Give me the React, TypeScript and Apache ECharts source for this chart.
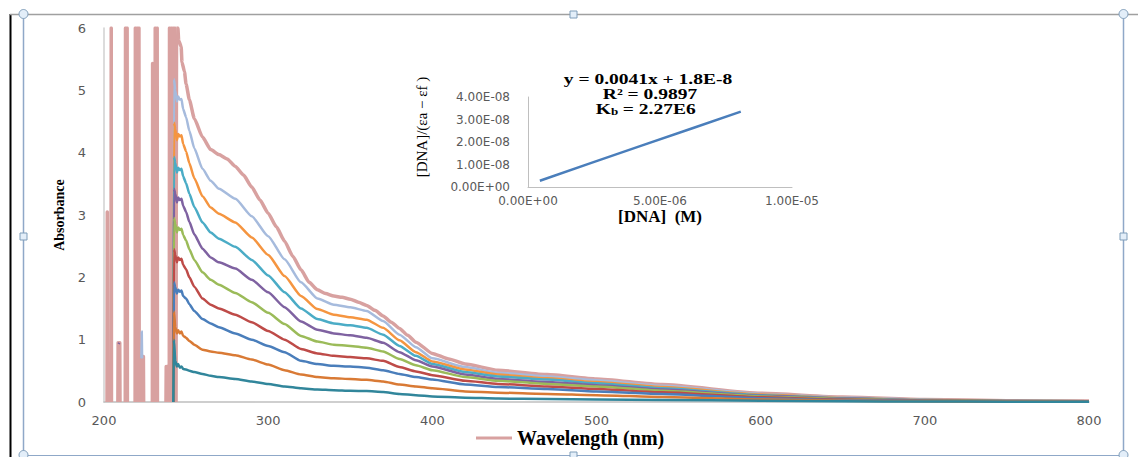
import React, { useEffect, useRef } from "react";
import * as echarts from "echarts";

// ---------- Main spectra: [wavelength (nm), absorbance] ----------
// Noisy saturated spikes of the pink spectrum below 245 nm: [centre nm, top absorbance]
const pinkSpikes: number[][] = [
  [202.0, 3.05], [204.4, 6],
  [208.6, 0.95], [209.6, 0.95],
  [213.1, 6], [214.1, 6],
  [219.1, 6], [220.2, 6], [221.3, 6],
  [222.8, 0.73], [224.0, 0.73],
  [229.6, 5.43], [231.2, 6], [232.4, 6],
  [237.9, 0.57], [238.6, 0.57],
  [239.9, 6], [241.0, 6], [242.1, 6], [243.2, 6],
];

const pinkCurve: any[] = [
  [243.9, 0], [244.2, 6], [245, 6], [245.5, 5.8], [247, 5.7], [247.5, 5.45], [249, 5.3],
  [250, 5.1], [252, 4.85], [255, 4.55], [260, 4.25], [265, 4.05], [270, 3.97], [275, 3.9],
  [280, 3.78], [285, 3.64], [290, 3.45], [295, 3.24], [300, 3.03], [305, 2.81], [310, 2.58],
  [315, 2.34], [320, 2.12], [325, 1.92], [330, 1.8], [335, 1.74], [340, 1.7], [345, 1.68],
  [350, 1.65], [355, 1.6], [360, 1.55], [365, 1.47], [370, 1.38], [375, 1.28], [380, 1.18],
  [385, 1.07], [390, 0.96], [400, 0.78], [410, 0.69], [420, 0.61], [440, 0.51], [470, 0.44],
  [500, 0.37], [540, 0.28], [600, 0.14], [650, 0.08], [700, 0.04], [750, 0.022], [800, 0.015],
];

const lightBlueSeries: any[] = [
  [222.8, 0.7], [223, 1.13], [223.2, 0.7], [223.3, "-"],
  [242.2, 0], [242.6, 5.18], [243.4, 5.0], [244.4, 4.82], [245.2, 4.9], [246.2, 4.85], [247.2, 4.86], [248.2, 4.7],
  [250, 4.57], [252, 4.35], [255, 4.07], [260, 3.74], [265, 3.55], [270, 3.42], [280, 3.26], [290, 2.98],
  [300, 2.66], [310, 2.29], [320, 1.92], [330, 1.66], [340, 1.56], [350, 1.52], [360, 1.46], [370, 1.3],
  [380, 1.08], [390, 0.88], [400, 0.7], [420, 0.56], [440, 0.47], [470, 0.41], [500, 0.35], [540, 0.26],
  [600, 0.13], [650, 0.072], [700, 0.037], [750, 0.02], [800, 0.014],
];

const orangeSeries: any[] = [
  [242.2, 0], [242.6, 4.48], [243.4, 4.38], [244.4, 4.2], [245.2, 4.3], [246.2, 4.26], [247.2, 4.28], [248.2, 4.14],
  [250, 4.02], [252, 3.83], [255, 3.59], [260, 3.3], [265, 3.12], [270, 3.02], [280, 2.88], [290, 2.64],
  [300, 2.36], [310, 2.02], [320, 1.7], [330, 1.49], [340, 1.4], [350, 1.36], [360, 1.32], [370, 1.19],
  [380, 0.99], [390, 0.8], [400, 0.65], [420, 0.52], [440, 0.44], [470, 0.38], [500, 0.32], [540, 0.24],
  [600, 0.12], [650, 0.066], [700, 0.034], [750, 0.019], [800, 0.013],
];

const aquaSeries: any[] = [
  [242.2, 0], [242.6, 3.93], [243.4, 3.84], [244.4, 3.68], [245.2, 3.76], [246.2, 3.72], [247.2, 3.74], [248.2, 3.62],
  [250, 3.51], [252, 3.34], [255, 3.13], [260, 2.88], [265, 2.72], [270, 2.62], [280, 2.49], [290, 2.28],
  [300, 2.03], [310, 1.76], [320, 1.5], [330, 1.33], [340, 1.26], [350, 1.23], [360, 1.19], [370, 1.08],
  [380, 0.9], [390, 0.74], [400, 0.61], [420, 0.48], [440, 0.41], [470, 0.36], [500, 0.3], [540, 0.22],
  [600, 0.11], [650, 0.06], [700, 0.031], [750, 0.018], [800, 0.012],
];

const purpleSeries: any[] = [
  [208.9, 0.93], [209.3, 0.95], [209.4, "-"],
  [242.2, 0], [242.6, 3.42], [243.4, 3.34], [244.4, 3.2], [245.2, 3.28], [246.2, 3.24], [247.2, 3.26], [248.2, 3.15],
  [250, 3.05], [252, 2.89], [255, 2.69], [260, 2.46], [265, 2.32], [270, 2.24], [280, 2.14], [290, 1.96],
  [300, 1.76], [310, 1.52], [320, 1.29], [330, 1.16], [340, 1.1], [350, 1.07], [360, 1.03], [370, 0.95],
  [380, 0.8], [390, 0.67], [400, 0.57], [420, 0.44], [440, 0.37], [470, 0.32], [500, 0.27], [540, 0.2],
  [600, 0.1], [650, 0.055], [700, 0.028], [750, 0.016], [800, 0.01],
];

const greenSeries: any[] = [
  [242.2, 0], [242.6, 2.95], [243.4, 2.86], [244.4, 2.72], [245.2, 2.8], [246.2, 2.76], [247.2, 2.78], [248.2, 2.68],
  [250, 2.59], [252, 2.45], [255, 2.28], [260, 2.08], [265, 1.96], [270, 1.88], [280, 1.75], [290, 1.6],
  [300, 1.43], [310, 1.25], [320, 1.06], [330, 0.97], [340, 0.92], [350, 0.9], [360, 0.87], [370, 0.81],
  [380, 0.69], [390, 0.59], [400, 0.51], [420, 0.4], [440, 0.34], [470, 0.29], [500, 0.25], [540, 0.18],
  [600, 0.09], [650, 0.048], [700, 0.024], [750, 0.014], [800, 0.009],
];

const redSeries: any[] = [
  [242.2, 0], [242.6, 2.45], [243.4, 2.36], [244.4, 2.24], [245.2, 2.32], [246.2, 2.28], [247.2, 2.3], [248.2, 2.2],
  [250, 2.13], [252, 2.0], [255, 1.85], [260, 1.66], [265, 1.56], [270, 1.5], [280, 1.4], [290, 1.28],
  [300, 1.14], [310, 1.0], [320, 0.85], [330, 0.78], [340, 0.74], [350, 0.72], [360, 0.7], [370, 0.66],
  [380, 0.56], [390, 0.49], [400, 0.43], [420, 0.34], [440, 0.29], [470, 0.25], [500, 0.21], [540, 0.155],
  [600, 0.075], [650, 0.04], [700, 0.02], [750, 0.012], [800, 0.008],
];

const blueSeries: any[] = [
  [242.2, 0], [242.6, 1.92], [243.4, 1.84], [244.4, 1.74], [245.2, 1.8], [246.2, 1.77], [247.2, 1.79], [248.2, 1.7],
  [250, 1.66], [252, 1.57], [255, 1.46], [260, 1.33], [265, 1.26], [270, 1.2], [280, 1.1], [290, 1.0],
  [300, 0.9], [310, 0.8], [320, 0.66], [330, 0.61], [340, 0.58], [350, 0.57], [360, 0.55], [370, 0.51],
  [380, 0.45], [390, 0.4], [400, 0.36], [420, 0.28], [440, 0.24], [470, 0.21], [500, 0.17], [540, 0.13],
  [600, 0.06], [650, 0.032], [700, 0.016], [750, 0.01], [800, 0.007],
];

const darkOrangeSeries: any[] = [
  [242.2, 0], [242.6, 1.45], [243.4, 1.2], [244.4, 1.1], [245.2, 1.15], [246.2, 1.1], [247.2, 1.13], [248.2, 1.06],
  [250, 1.03], [252, 0.98], [255, 0.92], [260, 0.84], [265, 0.81], [270, 0.79], [280, 0.75], [290, 0.68],
  [300, 0.6], [310, 0.51], [320, 0.44], [330, 0.4], [340, 0.38], [350, 0.37], [360, 0.355], [370, 0.33],
  [380, 0.28], [390, 0.25], [400, 0.22], [420, 0.17], [440, 0.15], [470, 0.13], [500, 0.11], [540, 0.08],
  [600, 0.04], [650, 0.022], [700, 0.012], [750, 0.008], [800, 0.006],
];

const tealSeries: any[] = [
  [242.2, 0], [242.6, 1.0], [243.4, 0.66], [244.4, 0.57], [245.2, 0.61], [246.2, 0.55], [247.2, 0.57], [248.2, 0.53],
  [250, 0.52], [252, 0.5], [255, 0.48], [260, 0.45], [265, 0.42], [270, 0.4], [280, 0.37], [290, 0.33],
  [300, 0.29], [310, 0.25], [320, 0.22], [330, 0.2], [340, 0.19], [350, 0.18], [360, 0.175], [370, 0.16],
  [380, 0.13], [390, 0.11], [400, 0.09], [420, 0.07], [440, 0.055], [470, 0.05], [500, 0.042], [540, 0.033],
  [600, 0.02], [650, 0.012], [700, 0.008], [750, 0.005], [800, 0.004],
];

// Drawing order: pink first (bottom), teal last (top)
const spectraData = [
  pinkCurve, lightBlueSeries, orangeSeries, aquaSeries, purpleSeries,
  greenSeries, redSeries, blueSeries, darkOrangeSeries, tealSeries,
];
const spectraNames = [
  "Wavelength (nm)", "S9", "S8", "S7", "S6", "S5", "S4", "S3", "S2", "S1",
];
const spectraColors = [
  "#D8A1A0", "#A6BBDD", "#F59540", "#4BACC6", "#7F62A1",
  "#9BBB59", "#BE4B48", "#4A7EBB", "#D97A35", "#31869B",
];

// ---------- Inset: [DNA] vs [DNA]/(εa − εf) ----------
const dnaConc = [0.45e-6, 2.4e-6, 4.3e-6, 6.2e-6, 8.06e-6];
const dnaRatio = [2.8e-9, 1.07e-8, 1.84e-8, 2.6e-8, 3.35e-8];

const equationLines = ["y = 0.0041x + 1.8E-8", "R² = 0.9897"];

const sci = (v: number) => {
  if (Math.abs(v) < 1e-20) return "0.00E+00";
  const [m, e] = v.toExponential(2).split("e");
  const n = parseInt(e, 10);
  return m + "E" + (n < 0 ? "-" : "+") + String(Math.abs(n)).padStart(2, "0");
};

export default function App() {
  const ref = useRef<HTMLDivElement>(null);

  useEffect(() => {
    if (!ref.current) return;
    const chart = echarts.init(ref.current, null, { renderer: "svg" });

    const frame = "#8FA8C8";
    const handleFill = "#E3EEF9";
    const serif = "'Liberation Serif', 'Times New Roman', serif";
    const sans = "'DejaVu Sans', sans-serif";

    // each spike becomes a narrow inverted V, separated by gaps
    const spikeData: any[] = [];
    pinkSpikes.forEach(([c, top]) => {
      spikeData.push([c - 0.15, 0], [c, top], [c + 0.15, 0], [c + 0.2, "-"]);
    });

    const spectra = spectraData.map((d, i) => ({
      name: spectraNames[i],
      type: "line",
      xAxisIndex: 0,
      yAxisIndex: 0,
      data: d,
      symbol: "none",
      smooth: 0.18,
      smoothMonotone: "x",
      connectNulls: false,
      color: spectraColors[i],
      lineStyle: {
        color: spectraColors[i],
        width: i === 0 ? 3.5 : 2.5,
        join: "round",
      },
      z: 2,
    }));

    const option: any = {
      animation: false,
      backgroundColor: "#ffffff",
      legend: {
        data: ["Wavelength (nm)"],
        left: 476,
        top: 428,
        padding: 0,
        icon: "rect",
        itemWidth: 36,
        itemHeight: 3,
        selectedMode: false,
        textStyle: { fontFamily: serif, fontWeight: "bold", fontSize: 20, color: "#000" },
      },
      grid: [
        { left: 104, top: 28, width: 985, height: 374 },
        { left: 528, top: 97, width: 264, height: 90 },
      ],
      xAxis: [
        {
          type: "value",
          gridIndex: 0,
          min: 200,
          max: 800,
          interval: 100,
          axisLine: { show: true, lineStyle: { color: "#BFBFBF", width: 1.5 } },
          axisTick: { show: false },
          splitLine: { show: false },
          axisLabel: { margin: 12, fontSize: 13, color: "#595959", fontFamily: sans },
        },
        {
          type: "value",
          gridIndex: 1,
          min: 0,
          max: 1e-5,
          interval: 5e-6,
          axisLine: { show: true, lineStyle: { color: "#BFBFBF", width: 1 } },
          axisTick: { show: false },
          splitLine: { show: false },
          axisLabel: { margin: 8, fontSize: 12, color: "#595959", fontFamily: sans, formatter: sci },
          name: "[DNA]  (M)",
          nameLocation: "middle",
          nameGap: 14,
          nameTextStyle: { fontFamily: serif, fontWeight: "bold", fontSize: 17, color: "#000" },
        },
      ],
      yAxis: [
        {
          type: "value",
          gridIndex: 0,
          min: 0,
          max: 6,
          interval: 1,
          axisLine: { show: true, lineStyle: { color: "#D0D0D0", width: 1.5 } },
          axisTick: { show: false },
          splitLine: { show: false },
          axisLabel: { margin: 18, fontSize: 13, color: "#595959", fontFamily: sans },
          name: "Absorbance",
          nameLocation: "middle",
          nameGap: 37,
          nameRotate: 90,
          nameTextStyle: { fontFamily: serif, fontWeight: "bold", fontSize: 14, color: "#000" },
        },
        {
          type: "value",
          gridIndex: 1,
          min: 0,
          max: 4e-8,
          interval: 1e-8,
          axisLine: { show: true, lineStyle: { color: "#BFBFBF", width: 1 } },
          axisTick: { show: false },
          splitLine: { show: false },
          axisLabel: { margin: 18, fontSize: 12, color: "#595959", fontFamily: sans, formatter: sci },
        },
      ],
      series: [
        {
          name: "Wavelength (nm)",
          type: "line",
          xAxisIndex: 0,
          yAxisIndex: 0,
          data: spikeData,
          symbol: "none",
          connectNulls: false,
          color: spectraColors[0],
          lineStyle: { color: spectraColors[0], width: 3.5, join: "round" },
          z: 2,
        },
        ...spectra,
        {
          name: "Linear",
          type: "line",
          xAxisIndex: 1,
          yAxisIndex: 1,
          data: dnaConc.map((c, i) => [c, dnaRatio[i]]),
          symbol: "none",
          color: "#4A7EBB",
          lineStyle: { color: "#4A7EBB", width: 2.5 },
          z: 3,
        },
      ],
      graphic: [
        {
          type: "text",
          x: 648,
          y: 79,
          scaleX: 1.3,
          style: {
            text: equationLines[0],
            font: `bold 15px ${serif}`,
            fill: "#000",
            align: "center",
            verticalAlign: "middle",
            textAlign: "center",
            textVerticalAlign: "middle",
          },
          z: 10,
        },
        {
          type: "text",
          x: 650,
          y: 94,
          scaleX: 1.3,
          style: {
            text: equationLines[1],
            font: `bold 15px ${serif}`,
            fill: "#000",
            align: "center",
            verticalAlign: "middle",
            textAlign: "center",
            textVerticalAlign: "middle",
          },
          z: 10,
        },
        {
          type: "text",
          x: 611,
          y: 109,
          scaleX: 1.3,
          style: {
            text: "K",
            font: `bold 15px ${serif}`,
            fill: "#000",
            align: "right",
            verticalAlign: "middle",
            textAlign: "right",
            textVerticalAlign: "middle",
          },
          z: 10,
        },
        {
          type: "text",
          x: 611,
          y: 112,
          scaleX: 1.3,
          style: {
            text: "b",
            font: `bold 10px ${serif}`,
            fill: "#000",
            align: "left",
            verticalAlign: "middle",
            textAlign: "left",
            textVerticalAlign: "middle",
          },
          z: 10,
        },
        {
          type: "text",
          x: 618,
          y: 109,
          scaleX: 1.3,
          style: {
            text: " = 2.27E6",
            font: `bold 15px ${serif}`,
            fill: "#000",
            align: "left",
            verticalAlign: "middle",
            textAlign: "left",
            textVerticalAlign: "middle",
          },
          z: 10,
        },
        {
          type: "text",
          x: 422,
          y: 127,
          rotation: Math.PI / 2,
          style: {
            text: "[DNA]/(εa − εf )",
            font: `15px ${serif}`,
            fill: "#000",
            align: "center",
            verticalAlign: "middle",
            textAlign: "center",
            textVerticalAlign: "middle",
          },
          z: 10,
        },
        // selection frame
        { type: "line", shape: { x1: 10.5, y1: 14, x2: 10.5, y2: 457 }, style: { stroke: "#000", lineWidth: 2 }, z: 20 },
        { type: "line", shape: { x1: 10, y1: 14.5, x2: 1138, y2: 14.5 }, style: { stroke: "#A0A0A0", lineWidth: 1.5 }, z: 20 },
        { type: "line", shape: { x1: 23.5, y1: 14, x2: 23.5, y2: 455 }, style: { stroke: frame, lineWidth: 1.5 }, z: 20 },
        { type: "line", shape: { x1: 1123.5, y1: 14, x2: 1123.5, y2: 455 }, style: { stroke: frame, lineWidth: 1.5 }, z: 20 },
        { type: "line", shape: { x1: 23, y1: 455.5, x2: 1123, y2: 455.5 }, style: { stroke: frame, lineWidth: 1 }, z: 20 },
        { type: "circle", shape: { cx: 23.5, cy: 14, r: 4.5 }, style: { fill: handleFill, stroke: "#7F9DB9", lineWidth: 1 }, z: 21 },
        { type: "circle", shape: { cx: 1123.5, cy: 14, r: 4.5 }, style: { fill: handleFill, stroke: "#7F9DB9", lineWidth: 1 }, z: 21 },
        { type: "circle", shape: { cx: 23.5, cy: 455, r: 4.5 }, style: { fill: handleFill, stroke: "#7F9DB9", lineWidth: 1 }, z: 21 },
        { type: "circle", shape: { cx: 1123.5, cy: 455, r: 4.5 }, style: { fill: handleFill, stroke: "#7F9DB9", lineWidth: 1 }, z: 21 },
        { type: "rect", shape: { x: 570, y: 11, width: 7, height: 7 }, style: { fill: handleFill, stroke: "#7F9DB9", lineWidth: 1 }, z: 21 },
        { type: "rect", shape: { x: 570, y: 452, width: 7, height: 7 }, style: { fill: handleFill, stroke: "#7F9DB9", lineWidth: 1 }, z: 21 },
        { type: "rect", shape: { x: 20, y: 233, width: 7, height: 7 }, style: { fill: handleFill, stroke: "#7F9DB9", lineWidth: 1 }, z: 21 },
        { type: "rect", shape: { x: 1120, y: 233, width: 7, height: 7 }, style: { fill: handleFill, stroke: "#7F9DB9", lineWidth: 1 }, z: 21 },
      ],
    };

    chart.setOption(option);
    return () => chart.dispose();
  }, []);

  return (
    <div
      ref={ref}
      style={{ position: "absolute", left: 0, top: 0, width: 1138, height: 457 }}
    />
  );
}
